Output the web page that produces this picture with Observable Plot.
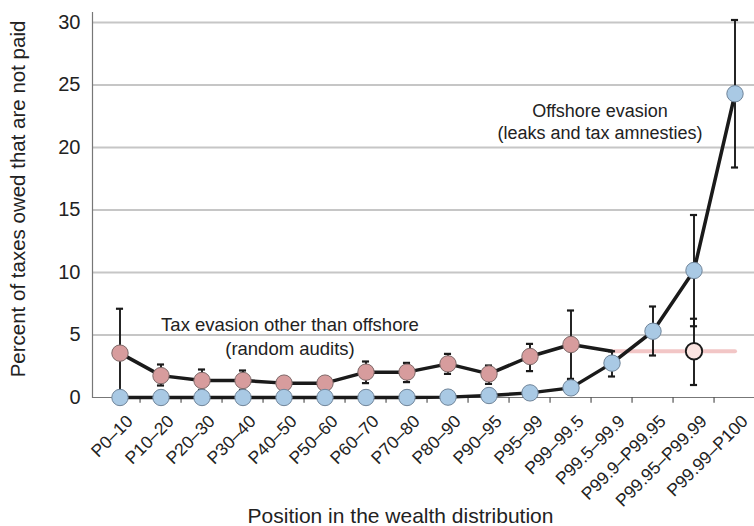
<!DOCTYPE html>
<html>
<head>
<meta charset="utf-8">
<script src="https://cdn.jsdelivr.net/npm/d3@7"></script>
<script src="https://cdn.jsdelivr.net/npm/@observablehq/plot@0.6"></script>
<style>
  html, body { margin: 0; padding: 0; background: #fff; overflow: hidden; }
  #chart svg { overflow: hidden; }
</style>
</head>
<body>
<div id="chart"></div>
<script>
const categories = ["P0–10","P10–20","P20–30","P30–40","P40–50","P50–60","P60–70","P70–80","P80–90","P90–95","P95–99","P99–99.5","P99.5–99.9","P99.9–P99.95","P99.95–P99.99","P99.99–P100"];

// Tax evasion other than offshore (random audits)
const auditCats = categories.slice(0, 12);
const auditValues = [3.55, 1.75, 1.36, 1.36, 1.15, 1.15, 2.03, 2.03, 2.69, 1.89, 3.28, 4.24];
const auditLow    = [0.0, 0.96, 0.6, 0.6, 0.7, 0.7, 1.15, 1.23, 1.89, 1.09, 2.11, 1.49];
const auditHigh   = [7.1, 2.64, 2.24, 2.16, 1.62, 1.62, 2.88, 2.77, 3.49, 2.56, 4.29, 6.96];
// line continuation of the audit series (no marker)
const auditTailCats = ["P99–99.5", "P99.5–99.9"];
const auditTailValues = [4.24, 3.7];
// imputed top audit value (flat line + open circle)
const flatCats = ["P99.5–99.9", "P99.99–P100"];
const flatValues = [3.7, 3.7];
const openCat = ["P99.95–P99.99"];
const openValue = [3.7];
const openLow = [1.0];
const openHigh = [6.3];

// Offshore evasion (leaks and tax amnesties)
const offshoreValues = [0, 0, 0, 0, 0, 0, 0, 0, 0.03, 0.16, 0.37, 0.77, 2.75, 5.3, 10.16, 24.3];
const offshoreErrCats = ["P99.5–99.9","P99.9–P99.95","P99.95–P99.99","P99.99–P100"];
const offshoreLow  = [1.68, 3.36, 5.7, 18.4];
const offshoreHigh = [3.7, 7.28, 14.6, 30.2];

const yTicks = [0, 5, 10, 15, 20, 25, 30];
const gridTicks = [5, 10, 15, 20, 25, 30];

const audit = auditCats.map((c, i) => ({c, v: auditValues[i], lo: auditLow[i], hi: auditHigh[i]}));
const auditTail = auditTailCats.map((c, i) => ({c, v: auditTailValues[i]}));
const flat = flatCats.map((c, i) => ({c, v: flatValues[i]}));
const open = openCat.map((c, i) => ({c, v: openValue[i], lo: openLow[i], hi: openHigh[i]}));
const offshore = categories.map((c, i) => ({c, v: offshoreValues[i]}));
const offshoreErr = offshoreErrCats.map((c, i) => ({c, lo: offshoreLow[i], hi: offshoreHigh[i]}));

const W = 754, H = 526;
const mL = 92, mT = 12, mB = 129;
const bw = 41.9;
const capInset = (bw - 8) / 2;
const font = "Liberation Sans, Arial, Helvetica, sans-serif";
const ink = "#1a1a1a";
const txt = "#222";

const errMarks = (data) => [
  Plot.ruleX(data, {x: "c", y1: "lo", y2: "hi", stroke: ink, strokeWidth: 1.9}),
  Plot.tickY(data, {x: "c", y: "hi", stroke: ink, strokeWidth: 2.2, insetLeft: capInset, insetRight: capInset}),
  Plot.tickY(data, {x: "c", y: "lo", stroke: ink, strokeWidth: 2.2, insetLeft: capInset, insetRight: capInset})
];

const chart = Plot.plot({
  width: W,
  height: H,
  marginLeft: mL,
  marginRight: 0,
  marginTop: mT,
  marginBottom: mB,
  style: {fontFamily: font, fontSize: "15px", color: txt, background: "#fff"},
  x: {type: "band", domain: categories, range: [mL, mL + bw * categories.length], padding: 0, axis: null},
  y: {domain: [0, 30.8], axis: null},
  marks: [
    Plot.ruleY(gridTicks, {stroke: "#c6c6c6", strokeWidth: 1.8}),
    Plot.ruleY([0], {stroke: "#777", strokeWidth: 1.2}),
    Plot.frame({anchor: "left", stroke: "#777", strokeWidth: 1.2}),
    // band-boundary ticks below x axis
    Plot.ruleX(categories.slice(1), {x: d => d, y1: 0, y2: -0.45, dx: -bw / 2, stroke: "#555", strokeWidth: 1.2}),
    // x tick labels (rotated)
    Plot.text(categories, {x: d => d, frameAnchor: "bottom", text: d => d, rotate: -45, textAnchor: "end", lineAnchor: "middle", dx: 10, dy: 21, fontSize: 17.5, fill: txt}),
    Plot.axisY({ticks: yTicks, tickSize: 0, tickPadding: 12, fontSize: 20, label: null, fill: txt}),
    // audit flat imputed line
    Plot.line(flat, {x: "c", y: "v", stroke: "#f2c6c6", strokeWidth: 4}),
    // error bars
    ...errMarks(audit),
    ...errMarks(offshoreErr),
    ...errMarks(open),
    // lines
    Plot.line(auditTail, {x: "c", y: "v", stroke: ink, strokeWidth: 3.5}),
    Plot.line(audit, {x: "c", y: "v", stroke: ink, strokeWidth: 3.5}),
    Plot.line(offshore, {x: "c", y: "v", stroke: ink, strokeWidth: 3.5}),
    // dots
    Plot.dot(audit, {x: "c", y: "v", r: 8.2, fill: "#d79c9d", stroke: "#7d6868", strokeWidth: 1}),
    Plot.dot(offshore, {x: "c", y: "v", r: 8.2, fill: "#a9c9e4", stroke: "#6f8499", strokeWidth: 1}),
    Plot.dot(open, {x: "c", y: "v", r: 8.2, fill: "#fbe4e1", stroke: ink, strokeWidth: 1.9}),
    // annotations
    Plot.text(["Tax evasion other than offshore\n(random audits)"], {x: () => "P40–50", y: () => 5.0, dx: 6, text: d => d, fontSize: 18.5, fill: txt, lineHeight: 1.3}),
    Plot.text(["Offshore evasion\n(leaks and tax amnesties)"], {x: () => "P99.5–99.9", y: () => 22.1, dx: -12, text: d => d, fontSize: 18, fill: txt, lineHeight: 1.22}),
    // axis titles
    Plot.text(["Position in the wealth distribution"], {frameAnchor: "bottom", lineAnchor: "bottom", dx: -23, dy: 125, text: d => d, fontSize: 21, fill: txt}),
    Plot.text(["Percent of taxes owed that are not paid"], {frameAnchor: "left", textAnchor: "middle", dx: -74, dy: -6, rotate: -90, text: d => d, fontSize: 20.5, fill: txt})
  ]
});
document.getElementById("chart").appendChild(chart);
</script>
</body>
</html>
